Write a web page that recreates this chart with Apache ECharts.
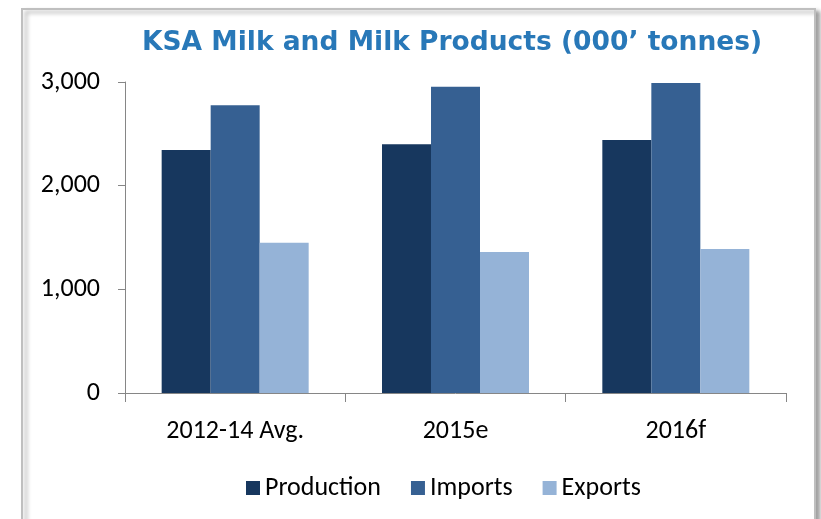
<!DOCTYPE html>
<html>
<head>
<meta charset="utf-8">
<script src="https://cdn.jsdelivr.net/npm/echarts@6/dist/echarts.min.js"></script>
<style>
html,body{margin:0;padding:0;background:#fff;}
#chart{width:821px;height:519px;}
</style>
</head>
<body>
<div id="chart"></div>
<script>
var categories = ['2012-14 Avg.', '2015e', '2016f'];
var production = [2345, 2400, 2440];
var imports = [2775, 2955, 2990];
var exports = [1450, 1360, 1390];
var yTicks = [0, 1000, 2000, 3000];

var labelFont = "Carlito, Calibri, 'Liberation Sans', Arial, sans-serif";
var chart = echarts.init(document.getElementById('chart'));
var option = {
  animation: false,
  backgroundColor: '#ffffff',
  graphic: [{
    type: 'rect',
    z: -10,
    shape: { x: 22, y: 9, width: 793, height: 530 },
    style: {
      fill: '#ffffff', stroke: '#bfbfbf', lineWidth: 2,
      shadowColor: 'rgba(0,0,0,0.35)', shadowBlur: 4, shadowOffsetX: 4, shadowOffsetY: 3
    }
  }],
  title: {
    text: 'KSA Milk and Milk Products (000\u2019 tonnes)',
    left: 142,
    top: 30,
    padding: 0,
    textStyle: {
      fontFamily: "'DejaVu Sans', Verdana, sans-serif",
      fontWeight: 'bold',
      fontSize: 26.5,
      color: '#2878b8'
    }
  },
  legend: {
    data: ['Production', 'Imports', 'Exports'],
    left: 241,
    top: 470,
    itemWidth: 14,
    itemHeight: 14,
    itemGap: 30,
    icon: 'rect',
    textStyle: { fontFamily: labelFont, fontSize: 26, color: '#000' }
  },
  grid: { left: 125, right: 35, top: 82, bottom: 126, containLabel: false },
  xAxis: {
    type: 'category',
    data: categories,
    axisLine: { lineStyle: { color: '#868686', width: 1 } },
    axisTick: { show: true, length: 9, lineStyle: { color: '#868686' } },
    axisLabel: { margin: 25, fontFamily: labelFont, fontSize: 26, color: '#000' }
  },
  yAxis: {
    type: 'value',
    min: yTicks[0],
    max: yTicks[yTicks.length - 1],
    interval: 1000,
    axisLine: { show: true, lineStyle: { color: '#868686', width: 1 } },
    axisTick: { show: true, length: 7, lineStyle: { color: '#868686' } },
    splitLine: { show: false },
    axisLabel: {
      margin: 25, fontFamily: labelFont, fontSize: 26, color: '#000',
      formatter: function (v) { return v.toLocaleString('en-US'); }
    }
  },
  series: [
    { name: 'Production', type: 'bar', data: production, barWidth: 49, barGap: '0%',
      itemStyle: { color: '#17375e' } },
    { name: 'Imports', type: 'bar', data: imports, barWidth: 49, barGap: '0%',
      itemStyle: { color: '#366092' } },
    { name: 'Exports', type: 'bar', data: exports, barWidth: 49, barGap: '0%',
      itemStyle: { color: '#95b3d7' } }
  ]
};
chart.setOption(option);
</script>
</body>
</html>
